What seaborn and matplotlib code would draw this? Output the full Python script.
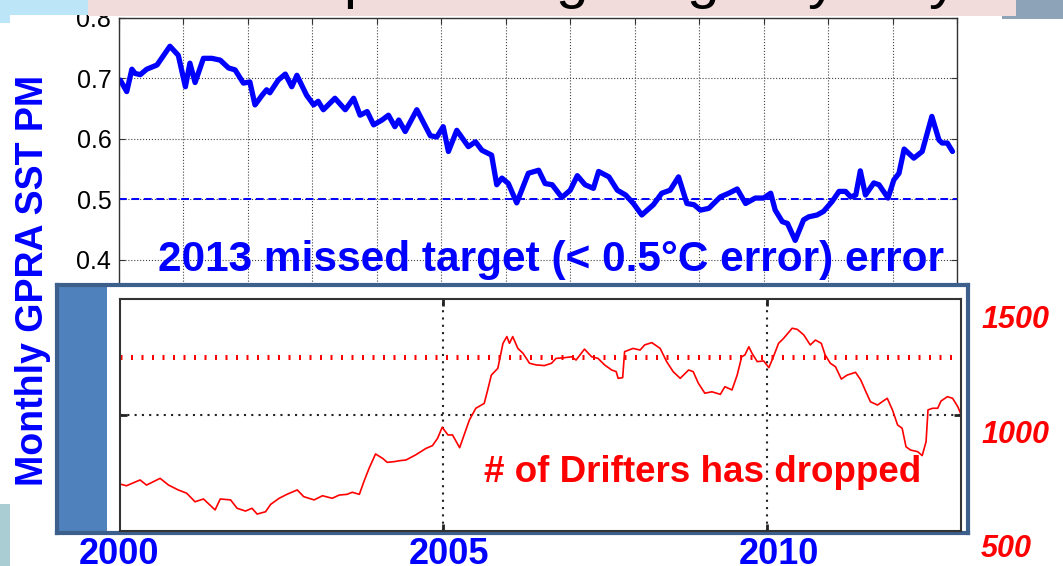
"""
GPRA SST performance measure vs. number of drifting buoys (slide recreation)
"""

import matplotlib
matplotlib.use("Agg")
import matplotlib.pyplot as plt
from matplotlib.patches import Rectangle
import seaborn as sns

# ── Data ───────────────────────────────────────────────────────────────────────
sst_year = [
    2000.02, 2000.12, 2000.20, 2000.25, 2000.33, 2000.43, 2000.59, 2000.79, 2000.92, 2001.03,
    2001.10, 2001.18, 2001.31, 2001.44, 2001.57, 2001.70, 2001.80, 2001.93, 2002.03, 2002.11,
    2002.22, 2002.29, 2002.34, 2002.47, 2002.58, 2002.68, 2002.76, 2002.91, 2003.02, 2003.09,
    2003.17, 2003.35, 2003.51, 2003.64, 2003.74, 2003.85, 2003.95, 2004.08, 2004.18, 2004.28,
    2004.34, 2004.44, 2004.62, 2004.83, 2004.93, 2005.03, 2005.11, 2005.24, 2005.42, 2005.53,
    2005.63, 2005.78, 2005.86, 2005.94, 2006.04, 2006.17, 2006.35, 2006.51, 2006.61, 2006.72,
    2006.87, 2007.00, 2007.11, 2007.23, 2007.36, 2007.44, 2007.60, 2007.73, 2007.86, 2007.98,
    2008.11, 2008.29, 2008.42, 2008.55, 2008.68, 2008.81, 2008.92, 2009.02, 2009.15, 2009.33,
    2009.46, 2009.59, 2009.72, 2009.87, 2010.00, 2010.11, 2010.18, 2010.29, 2010.37, 2010.49,
    2010.62, 2010.70, 2010.83, 2010.93, 2011.06, 2011.17, 2011.27, 2011.35, 2011.43, 2011.50,
    2011.58, 2011.71, 2011.79, 2011.93, 2012.02, 2012.10, 2012.18, 2012.33, 2012.46, 2012.61,
    2012.72, 2012.77, 2012.85, 2012.93,
]
sst_pm = [
    0.697, 0.678, 0.715, 0.708, 0.706, 0.715, 0.722, 0.753, 0.738, 0.686,
    0.725, 0.693, 0.733, 0.733, 0.730, 0.717, 0.714, 0.692, 0.694, 0.656,
    0.672, 0.681, 0.676, 0.697, 0.707, 0.686, 0.705, 0.672, 0.656, 0.662,
    0.648, 0.667, 0.648, 0.667, 0.639, 0.645, 0.623, 0.631, 0.639, 0.620,
    0.631, 0.612, 0.648, 0.605, 0.603, 0.620, 0.579, 0.614, 0.587, 0.595,
    0.581, 0.573, 0.524, 0.535, 0.526, 0.494, 0.543, 0.548, 0.526, 0.524,
    0.503, 0.515, 0.539, 0.524, 0.518, 0.546, 0.537, 0.515, 0.507, 0.493,
    0.474, 0.491, 0.510, 0.515, 0.537, 0.493, 0.491, 0.482, 0.485, 0.504,
    0.510, 0.517, 0.493, 0.502, 0.502, 0.510, 0.482, 0.463, 0.460, 0.432,
    0.466, 0.471, 0.474, 0.480, 0.496, 0.513, 0.513, 0.504, 0.507, 0.547,
    0.507, 0.527, 0.524, 0.502, 0.532, 0.543, 0.583, 0.568, 0.579, 0.637,
    0.598, 0.593, 0.593, 0.579,
]

drifter_year = [
    2000.02, 2000.10, 2000.21, 2000.31, 2000.41, 2000.52, 2000.62, 2000.75, 2000.90, 2001.03,
    2001.16, 2001.29, 2001.47, 2001.55, 2001.71, 2001.81, 2001.94, 2002.04, 2002.12, 2002.25,
    2002.33, 2002.46, 2002.58, 2002.74, 2002.84, 2003.00, 2003.13, 2003.28, 2003.39, 2003.51,
    2003.59, 2003.70, 2003.77, 2003.85, 2003.95, 2004.06, 2004.13, 2004.24, 2004.32,
    2004.42, 2004.57, 2004.73, 2004.83, 2004.91, 2004.98, 2005.07, 2005.14, 2005.25, 2005.32,
    2005.40, 2005.50, 2005.63, 2005.69, 2005.74, 2005.84, 2005.92, 2005.98, 2006.02, 2006.07,
    2006.15, 2006.23, 2006.33, 2006.43, 2006.56, 2006.67, 2006.74, 2006.87, 2006.98, 2007.05,
    2007.18, 2007.29, 2007.39, 2007.49, 2007.60, 2007.67, 2007.70, 2007.77, 2007.80, 2007.93,
    2008.04, 2008.11, 2008.22, 2008.35, 2008.45, 2008.55, 2008.66,
    2008.79, 2008.86, 2008.94, 2009.04, 2009.15, 2009.28, 2009.35, 2009.46, 2009.54, 2009.61,
    2009.66, 2009.72, 2009.77, 2009.85, 2009.95, 2010.03, 2010.10, 2010.18, 2010.26, 2010.39,
    2010.47, 2010.57, 2010.67, 2010.75, 2010.84, 2010.90, 2010.98, 2011.06, 2011.15, 2011.24,
    2011.37, 2011.45, 2011.53, 2011.60, 2011.71, 2011.78, 2011.86, 2011.94, 2012.02, 2012.09,
    2012.15, 2012.22, 2012.33, 2012.40, 2012.46, 2012.49, 2012.56, 2012.64, 2012.69, 2012.79,
    2012.87, 2012.95, 2013.00,
]
drifter_count = [
    701, 695, 708, 720, 698, 713, 727, 698, 677, 663,
    626, 638, 591, 638, 634, 598, 586, 598, 573, 583,
    615, 641, 658, 677, 648, 634, 652, 641, 655, 658,
    667, 658, 713, 770, 832, 813, 796, 799, 803,
    806, 828, 856, 868, 900, 947, 914, 914, 859, 914,
    978, 1029, 1050, 1115, 1172, 1201, 1309, 1338, 1309, 1338,
    1287, 1266, 1223, 1216, 1213, 1223, 1244, 1247, 1251, 1237,
    1284, 1251, 1244, 1216, 1194, 1187, 1158, 1161, 1273, 1287,
    1280, 1302, 1312, 1287, 1230, 1187, 1158,
    1194, 1187, 1137, 1094, 1100, 1089, 1122, 1108, 1172, 1251,
    1259, 1294, 1266, 1230, 1233, 1204, 1251, 1309, 1331, 1374,
    1369, 1345, 1302, 1323, 1309, 1259, 1223, 1208, 1155, 1172,
    1184, 1151, 1100, 1057, 1043, 1057, 1072, 1022, 957, 943,
    863, 849, 842, 825, 885, 1022, 1029, 1029, 1060, 1079,
    1072, 1036, 1003,
]

sst_target = 0.5
drifter_target = 1250
sst_ticks = [0.4, 0.5, 0.6, 0.7, 0.8]
drifter_side_labels = ["1500", "1000", "500"]
year_labels = ["2000", "2005", "2010"]
title_glyphs = "pggyy"   # only the descenders of the slide title show

# ── Layout (pixel helpers) ────────────────────────────────────────────────────
W, H = 1063, 566


def fx(px):
    return px / W


def fy(py):
    return 1 - py / H


def rect(px0, py0, px1, py1):
    return [fx(px0), fy(py1), (px1 - px0) / W, (py1 - py0) / H]


def slide_block(fig, px0, py0, px1, py1, color, z=5):
    fig.add_artist(Rectangle((fx(px0), fy(py1)), (px1 - px0) / W, (py1 - py0) / H,
                             transform=fig.transFigure, color=color, lw=0, zorder=z))


sns.set_theme(style="white")
plt.rcParams["font.family"] = ["Liberation Sans", "DejaVu Sans"]

BLUE = "#0000FF"
RED = "#FF0000"
FRAME = "#3C5F8C"

fig = plt.figure(figsize=(W / 100, H / 100), dpi=100)

# ── Top panel: GPRA SST PM ────────────────────────────────────────────────────
ax1 = fig.add_axes(rect(119, 17.8, 957, 290), zorder=1)
sns.lineplot(x=sst_year, y=sst_pm, ax=ax1, color=BLUE, linewidth=3.8)
ax1.axhline(sst_target, color=BLUE, lw=1.4, ls=(0, (4, 2.4)))
ax1.set_xlim(2000, 2013)
ax1.set_ylim(0.35, 0.8)
ax1.set_xticks(range(2000, 2014))
ax1.set_yticks(sst_ticks)
ax1.set_yticklabels([f"{v:.1f}" for v in sst_ticks])
ax1.grid(True, ls=":", lw=0.8, color="#444")
ax1.tick_params(direction="in", length=4, width=0.8, color="#333",
                top=True, right=True, left=True, bottom=False,
                labelbottom=False, labelsize=18, labelcolor="black", pad=5.5)
ax1.spines["bottom"].set_visible(False)
for s in ("top", "left", "right"):
    ax1.spines[s].set_color("#333")
    ax1.spines[s].set_linewidth(1)
ax1.set_xlabel("")
ax1.set_ylabel("")

# ── Framed inset: number of drifters ─────────────────────────────────────────
ax_frame = fig.add_axes(rect(57, 285, 968, 533), zorder=2)
ax_frame.set_facecolor("white")
ax_frame.set_xticks([])
ax_frame.set_yticks([])
for s in ax_frame.spines.values():
    s.set_color(FRAME)
    s.set_linewidth(3)
ax_frame.add_patch(Rectangle((0, 0), 50 / 911, 1, transform=ax_frame.transAxes,
                             color="#4F81BD", lw=0, zorder=0))

ax2 = fig.add_axes(rect(120, 299, 961, 531), zorder=3)
sns.lineplot(x=drifter_year, y=drifter_count, ax=ax2, color=RED, linewidth=1.2)
ax2.axhline(drifter_target, color=RED, lw=3.6, ls=(0, (0.4, 1.7)))
ax2.set_xlim(2000, 2013)
ax2.set_ylim(500, 1500)
ax2.set_xticks([2005, 2010])
ax2.set_yticks([1000])
ax2.grid(True, ls=(0, (1, 2.5)), lw=1.5, color="#222")
ax2.tick_params(direction="in", length=5, width=2, color="#222",
                top=True, right=True, left=True, bottom=True,
                labelbottom=False, labelleft=False)
for s in ax2.spines.values():
    s.set_color("#333")
    s.set_linewidth(1.5)
ax2.set_xlabel("")
ax2.set_ylabel("")

# ── Slide text ────────────────────────────────────────────────────────────────
fig.text(fx(33.5), fy(280), "Monthly GPRA SST PM", rotation=90, ha="center",
         va="center", color=BLUE, fontsize=27, fontweight="bold")
fig.text(fx(551.5), fy(271), "2013 missed target (< 0.5°C error) error",
         ha="center", va="baseline", color=BLUE, fontsize=30.5, fontweight="bold",
         zorder=4)
fig.text(fx(703), fy(482), "# of Drifters has dropped", ha="center",
         va="baseline", color=RED, fontsize=26.5, fontweight="bold", zorder=10)

for label, py in zip(drifter_side_labels, [320, 435, 549]):
    fig.text(fx(981), fy(py), label, ha="left", va="center", color=RED,
             fontsize=22, fontweight="bold", fontstyle="italic")

for label, px in zip(year_labels, [119, 449, 779]):
    fig.text(fx(px), fy(564), label, ha="center", va="baseline", color=BLUE,
             fontsize=26, fontweight="bold", zorder=10)

# ── Slide decoration ──────────────────────────────────────────────────────────
slide_block(fig, 0, 0, 88, 15, "#BDE5F8")
slide_block(fig, 0, 0, 10, 23, "#BDE5F8")
slide_block(fig, 88, 0, 1016, 16, "#F2DCDB")
slide_block(fig, 1016, 0, 1063, 16, "#8DA3B7")
slide_block(fig, 1002, 16, 1063, 18.5, "#8DA3B7")
slide_block(fig, 0, 504, 10, 566, "#A9CDD3")

for ch, px in zip(title_glyphs, [360, 572, 703, 823, 944]):
    fig.text(fx(px), fy(-3), ch, ha="center", va="baseline", color="black",
             fontsize=42, zorder=6)

fig.savefig("out.png", dpi=100)
plt.close(fig)
